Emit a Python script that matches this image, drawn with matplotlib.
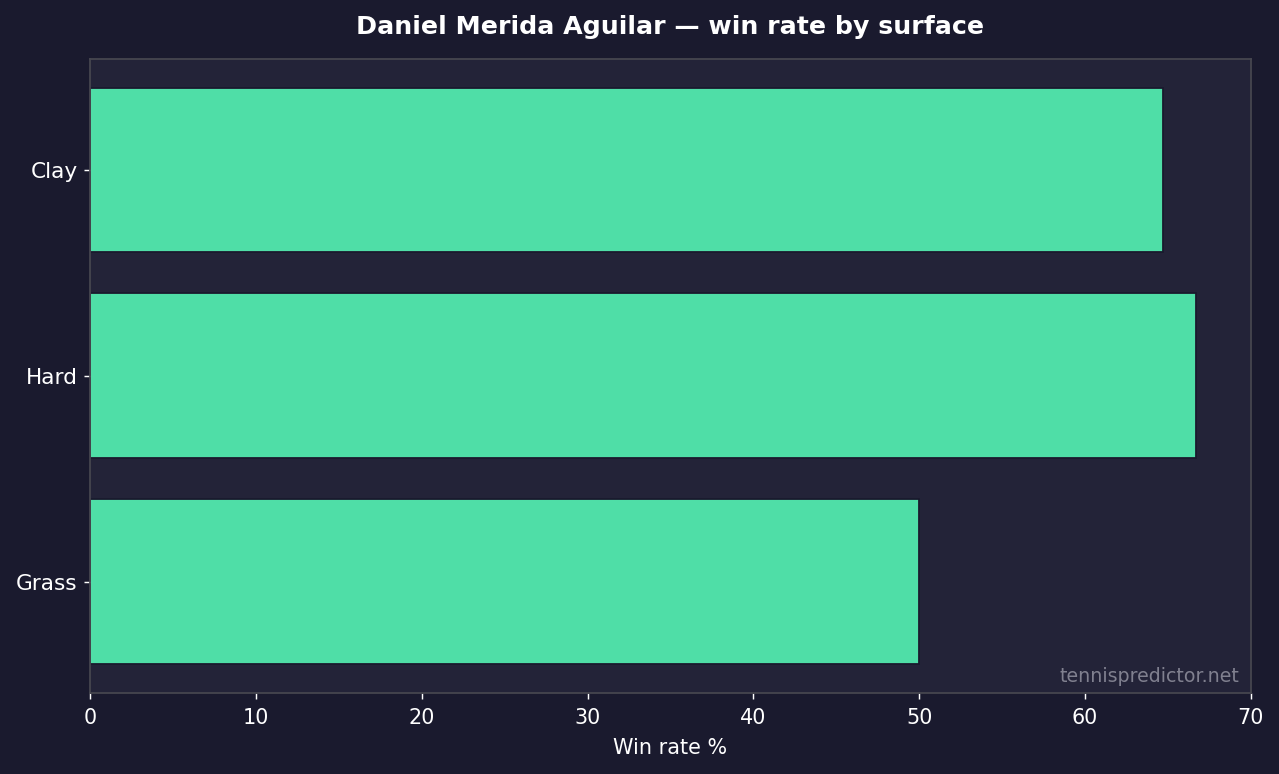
import matplotlib
matplotlib.use("Agg")
import matplotlib.pyplot as plt

plt.rcParams["font.family"] = ["DejaVu Sans"]

# Dados
surfaces = ["Clay", "Hard", "Grass"]
win_rates = [64.7, 66.7, 50.0]
player = "Daniel Merida Aguilar"

bg = "#1a1a2e"
panel = "#232338"
bar_color = "#4fdea7"

dpi = 130
fig, ax = plt.subplots(figsize=(1279 / dpi, 774 / dpi), dpi=dpi)
fig.patch.set_facecolor(bg)
ax.set_facecolor(panel)

ax.barh(surfaces, win_rates, color=bar_color, edgecolor=bg, linewidth=1.0, height=0.8)
ax.invert_yaxis()
ax.set_xlim(0, 70)

ax.set_title(f"{player} — win rate by surface", color="white", fontsize=14, weight="bold", pad=14)
ax.set_xlabel("Win rate %", color="white", fontsize=11.5, labelpad=5.5)
ax.tick_params(colors="white", labelsize=12)
ax.tick_params(axis="x", labelsize=11.5, pad=5)
for s in ax.spines.values():
    s.set_color("#46464f")
    s.set_linewidth(1.0)

ax.text(0.99, 0.01, "tennispredictor.net", transform=ax.transAxes, ha="right", va="bottom",
        color="#80808f", fontsize=10.5)

plt.subplots_adjust(left=0.0705, right=0.978, top=0.924, bottom=0.105)
plt.savefig("out.png", dpi=dpi, facecolor=bg)
plt.close()
